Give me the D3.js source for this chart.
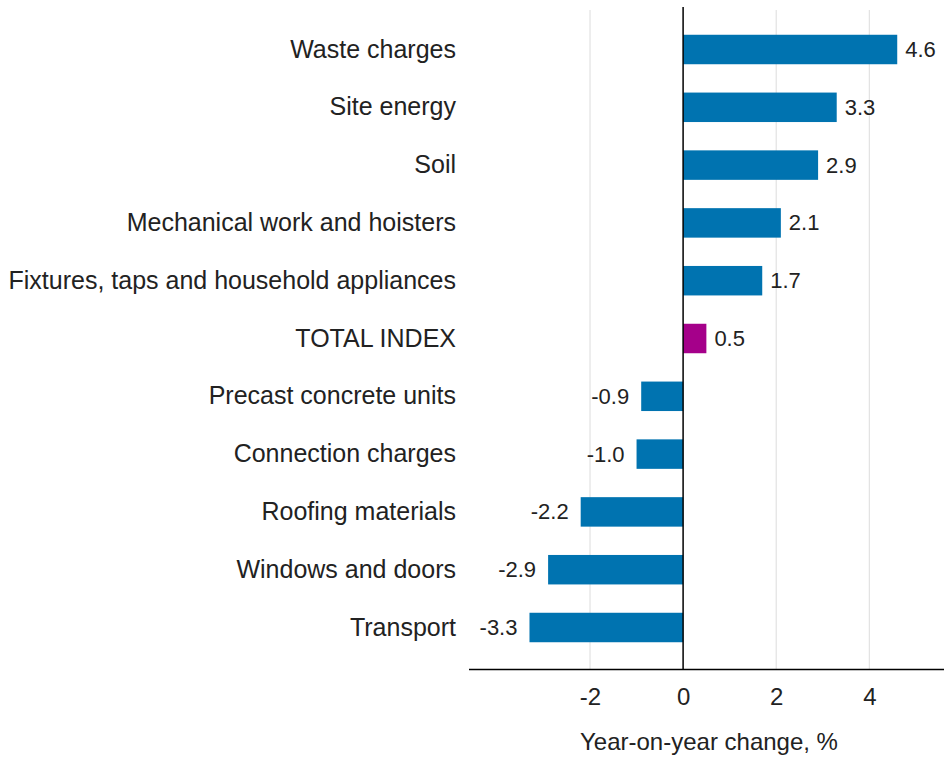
<!DOCTYPE html>
<html>
<head>
<meta charset="utf-8">
<script src="https://cdn.jsdelivr.net/npm/d3@7"></script>
<style>
  body { margin: 0; background: #fff; }
  text { font-family: "Liberation Sans", Arial, sans-serif; fill: #222; }
</style>
</head>
<body>
<script>
var categories = ["Waste charges", "Site energy", "Soil", "Mechanical work and hoisters",
  "Fixtures, taps and household appliances", "TOTAL INDEX", "Precast concrete units",
  "Connection charges", "Roofing materials", "Windows and doors", "Transport"];
var values = [4.6, 3.3, 2.9, 2.1, 1.7, 0.5, -0.9, -1.0, -2.2, -2.9, -3.3];
var xTicks = [-2, 0, 2, 4];
var highlight = "TOTAL INDEX";
var axisTitle = "Year-on-year change, %";

var width = 944, height = 758;

var svg = d3.select("body").append("svg")
  .attr("width", width)
  .attr("height", height);

var x = d3.scaleLinear()
  .domain([-2, 4])
  .range([590, 869.3]);

var y = d3.scaleBand()
  .domain(categories)
  .range([20.6, 656.4])
  .paddingInner(0.49)
  .paddingOuter(0.245);

var axisY = 669.5;

// gridlines
svg.selectAll("line.grid")
  .data(xTicks.filter(function(d) { return d !== 0; }))
  .enter()
  .append("line")
  .attr("class", "grid")
  .attr("x1", function(d) { return x(d); })
  .attr("x2", function(d) { return x(d); })
  .attr("y1", 10)
  .attr("y2", axisY)
  .attr("stroke", "#dcdcdc")
  .attr("stroke-width", 1);

// bars
svg.selectAll("rect.bar")
  .data(values)
  .enter()
  .append("rect")
  .attr("class", "bar")
  .attr("x", function(d) { return x(Math.min(0, d)); })
  .attr("y", function(d, i) { return y(categories[i]); })
  .attr("width", function(d) { return Math.abs(x(d) - x(0)); })
  .attr("height", y.bandwidth())
  .attr("fill", function(d, i) { return categories[i] === highlight ? "#a5008a" : "#0073b0"; });

// value labels
svg.selectAll("text.val")
  .data(values)
  .enter()
  .append("text")
  .attr("class", "val")
  .attr("x", function(d) { return d >= 0 ? x(d) + 8 : x(d) - 12; })
  .attr("y", function(d, i) { return y(categories[i]) + y.bandwidth() / 2; })
  .attr("dy", "0.34em")
  .attr("text-anchor", function(d) { return d >= 0 ? "start" : "end"; })
  .style("font-size", "22px")
  .text(function(d) { return d3.format(".1f")(d).replace("−", "-"); });

// category labels
svg.selectAll("text.cat")
  .data(categories)
  .enter()
  .append("text")
  .attr("class", "cat")
  .attr("x", 456)
  .attr("y", function(d) { return y(d) + y.bandwidth() / 2; })
  .attr("dy", "0.32em")
  .attr("text-anchor", "end")
  .style("font-size", "25px")
  .text(function(d) { return d; });

// zero line
svg.append("line")
  .attr("x1", x(0)).attr("x2", x(0))
  .attr("y1", 7).attr("y2", axisY)
  .attr("stroke", "#000")
  .attr("stroke-width", 1.5);

// x axis
var xAxis = d3.axisBottom(x)
  .tickValues(xTicks)
  .tickSize(0)
  .tickPadding(18)
  .tickFormat(function(d) { return String(d); });

var gx = svg.append("g")
  .attr("transform", "translate(0," + axisY + ")")
  .call(xAxis);
gx.select(".domain").remove();
gx.selectAll("text")
  .style("font-size", "24px")
  .style("font-family", "'Liberation Sans', Arial, sans-serif")
  .attr("fill", "#222");

svg.append("line")
  .attr("x1", 469).attr("x2", 944)
  .attr("y1", axisY).attr("y2", axisY)
  .attr("stroke", "#000")
  .attr("stroke-width", 1.5);

svg.append("text")
  .attr("x", 709)
  .attr("y", 750)
  .attr("text-anchor", "middle")
  .style("font-size", "24px")
  .text(axisTitle);
</script>
</body>
</html>
